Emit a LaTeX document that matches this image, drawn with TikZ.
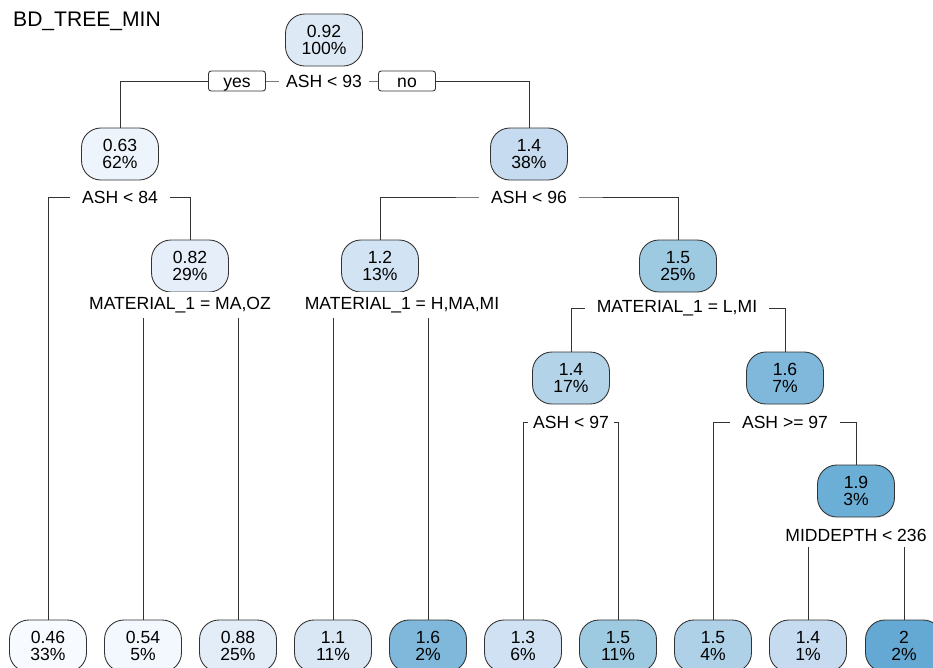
\documentclass[tikz,border=0pt]{standalone}
\usepackage{fontspec}
\setmainfont{Liberation Sans}
\usetikzlibrary{backgrounds}
% fill colours of the boxes (light to dark)
\definecolor{bA}{HTML}{F7FBFF}
\definecolor{bB}{HTML}{F3F8FE}
\definecolor{bC}{HTML}{EDF4FC}
\definecolor{bD}{HTML}{E6EFF9}
\definecolor{bE}{HTML}{E3EDF8}
\definecolor{bF}{HTML}{DDEAF6}
\definecolor{bG}{HTML}{D9E7F5}
\definecolor{bH}{HTML}{D2E3F3}
\definecolor{bI}{HTML}{CFE1F2}
\definecolor{bJ}{HTML}{C6DBEF}
\definecolor{bK}{HTML}{B2D3E8}
\definecolor{bL}{HTML}{AFD1E7}
\definecolor{bM}{HTML}{9ECAE1}
\definecolor{bN}{HTML}{7FB8DA}
\definecolor{bO}{HTML}{6BAED6}
\definecolor{bP}{HTML}{63A9D3}
\definecolor{edge}{HTML}{333333}
\tikzset{
	treebox/.style={draw=edge, line width=0.5pt, rounded corners=11pt, minimum width=1.54cm, minimum height=1.04cm, inner sep=0pt, align=center, font=\fontsize{10}{10}\selectfont},
	splitlab/.style={fill=white, inner xsep=7pt, inner ysep=3pt, font=\fontsize{10}{12}\selectfont},
	yesno/.style={draw=edge, line width=0.5pt, fill=white, rounded corners=1.5pt, minimum width=1.14cm, minimum height=0.4cm, text height=1.6ex, text depth=0.3ex, inner sep=0pt, font=\fontsize{10}{12}\selectfont},
}

\begin{document}
\begin{tikzpicture}[x=0.02cm,y=-0.02cm]
	\useasboundingbox (0,0) rectangle (933,667);
	\clip (0,0) rectangle (933,667);
	\node[anchor=west, font=\fontsize{12}{14}\selectfont] (title) at (7,21) {BD\_TREE\_MIN};
	% inner boxes
	\node[treebox, fill=bF] (n1) at (324,40) {0.92\\100\%};
	\node[treebox, fill=bC] (n2) at (120,154) {0.63\\62\%};
	\node[treebox, fill=bJ] (n3) at (529,154) {1.4\\38\%};
	\node[treebox, fill=bD] (n5) at (190,266) {0.82\\29\%};
	\node[treebox, fill=bH] (n6) at (380,266) {1.2\\13\%};
	\node[treebox, fill=bM] (n7) at (678,266) {1.5\\25\%};
	\node[treebox, fill=bK] (n14) at (571,378) {1.4\\17\%};
	\node[treebox, fill=bN] (n15) at (785,378) {1.6\\7\%};
	\node[treebox, fill=bO] (n31) at (856,491) {1.9\\3\%};
	% leaves
	\node[treebox, fill=bA] (n4) at (48,646) {0.46\\33\%};
	\node[treebox, fill=bB] (n10) at (143,646) {0.54\\5\%};
	\node[treebox, fill=bE] (n11) at (238,646) {0.88\\25\%};
	\node[treebox, fill=bG] (n12) at (333,646) {1.1\\11\%};
	\node[treebox, fill=bN] (n13) at (428,646) {1.6\\2\%};
	\node[treebox, fill=bI] (n28) at (523,646) {1.3\\6\%};
	\node[treebox, fill=bM] (n29) at (618,646) {1.5\\11\%};
	\node[treebox, fill=bL] (n30) at (713,646) {1.5\\4\%};
	\node[treebox, fill=bJ] (n62) at (808,646) {1.4\\1\%};
	\node[treebox, fill=bP] (n63) at (904,646) {2\\2\%};
	% split labels
	\node[splitlab, inner xsep=4pt] (s1) at (324,81) {ASH < 93};
	\node[yesno] (yes) at (237,81) {yes};
	\node[yesno] (no) at (407,81) {no};
	\node[splitlab] (s2) at (120,197) {ASH < 84};
	\node[splitlab] (s3) at (529,197) {ASH < 96};
	\node[splitlab] (s5) at (180,305) {MATERIAL\_1 = MA,OZ};
	\node[splitlab] (s6) at (402,305) {MATERIAL\_1 = H,MA,MI};
	\node[splitlab] (s7) at (677,308) {MATERIAL\_1 = L,MI};
	\node[splitlab, inner xsep=3pt] (s14) at (571,422) {ASH < 97};
	\node[splitlab] (s15) at (785,422) {ASH >= 97};
	\node[splitlab] (s31) at (856,535) {MIDDEPTH < 236};
	% branches, behind the labels
	\begin{pgfonlayer}{background}
		\draw[edge, line width=0.5pt] (n2.north) |- (s1.center) -| (n3.north);
		\draw[edge, line width=0.5pt] (n4.north) |- (s2.center) -| (n5.north);
		\draw[edge, line width=0.5pt] (n6.north) |- (s3.center) -| (n7.north);
		\draw[edge, line width=0.5pt] (n10.north) |- (s5.center) -| (n11.north);
		\draw[edge, line width=0.5pt] (n12.north) |- (s6.center) -| (n13.north);
		\draw[edge, line width=0.5pt] (n14.north) |- (s7.center) -| (n15.north);
		\draw[edge, line width=0.5pt] (n28.north) |- (s14.center) -| (n29.north);
		\draw[edge, line width=0.5pt] (n30.north) |- (s15.center) -| (n31.north);
		\draw[edge, line width=0.5pt] (n62.north) |- (s31.center) -| (n63.north);
	\end{pgfonlayer}
\end{tikzpicture}
\end{document}
